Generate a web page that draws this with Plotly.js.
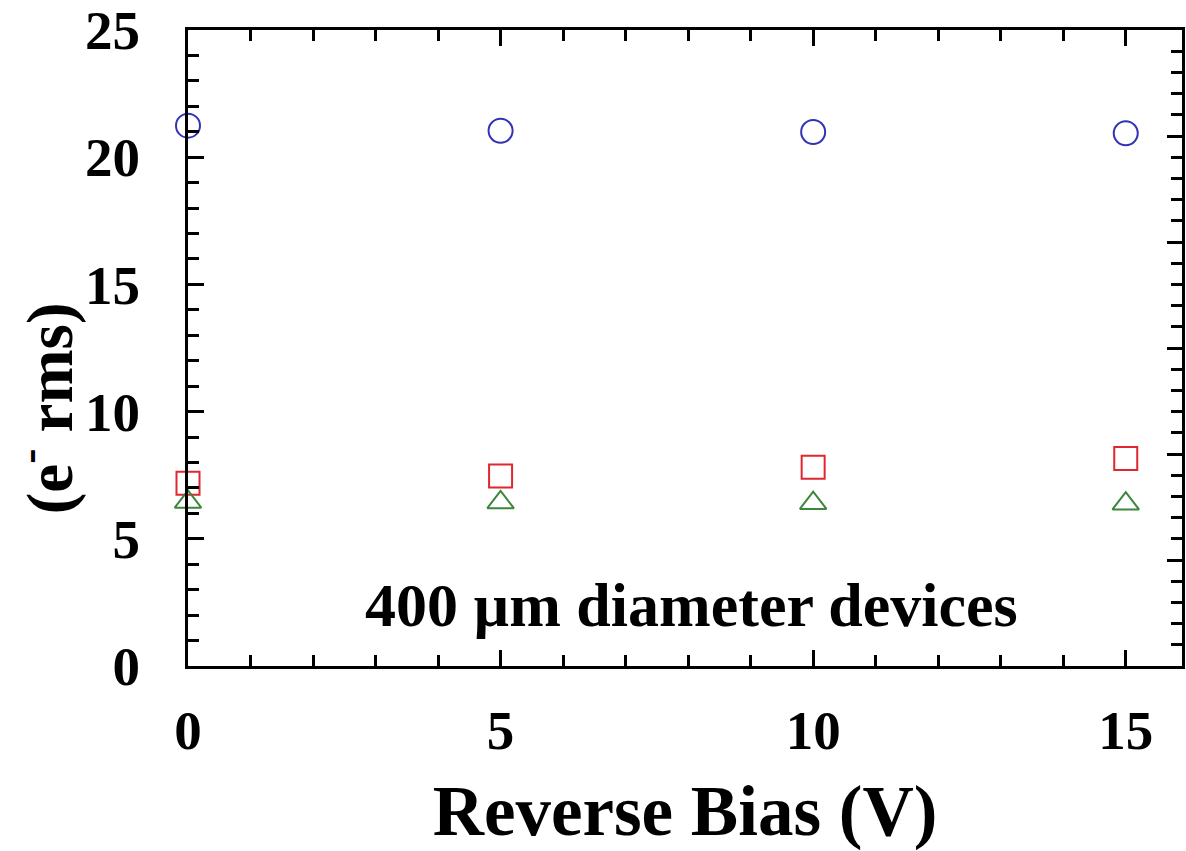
<!DOCTYPE html>
<html>
<head>
<meta charset="utf-8">
<script src="https://cdn.plot.ly/plotly-3.0.1.min.js"></script>
<style>
  html, body { margin: 0; padding: 0; background: #ffffff; }
  #chart { width: 1186px; height: 851px; }
</style>
</head>
<body>
<div id="chart"></div>
<script>
// Noise versus reverse bias, 400 µm diameter devices
const biasVolts = [0, 5, 10, 15];
const circleNoise = [21.24, 21.04, 20.99, 20.94];
const squareNoise = [7.18, 7.47, 7.81, 8.16];
const triangleNoise = [6.45, 6.43, 6.40, 6.38];
const xTickValues = [0, 5, 10, 15];
const yTickValues = [0, 5, 10, 15, 20, 25];
const noteText = '400 µm diameter devices';
const xTitleText = 'Reverse Bias (V)';
const yTitleText = '(e<sup>-</sup> rms)';

const serif = 'Liberation Serif, Times New Roman, serif';
const ink = '#000000';

function series(y, symbol, color, size) {
  return {
    x: biasVolts, y: y, type: 'scatter', mode: 'markers',
    marker: { symbol: symbol, size: size, color: color,
              line: { color: color, width: 2 } },
    hoverinfo: 'x+y', showlegend: false, cliponaxis: false
  };
}

const traces = [
  series(circleNoise, 'circle-open', '#3232b8', 24),
  series(squareNoise, 'square-open', '#e0262e', 23),
  series(triangleNoise, 'triangle-up-open', '#3c873c', 23),
  // empty trace that brings the top and right frame axes into being
  { x: [], y: [], xaxis: 'x2', yaxis: 'y2', type: 'scatter', mode: 'markers',
    hoverinfo: 'skip', showlegend: false }
];

const minorTicks = { dtick: 1, tick0: 0, ticks: 'inside', ticklen: 11, tickwidth: 3, tickcolor: ink };

const axisCommon = {
  showgrid: false, zeroline: false,
  showline: true, linecolor: ink, linewidth: 3,
  ticks: 'inside', ticklen: 16, tickwidth: 3, tickcolor: ink,
  tickfont: { family: serif, size: 55, color: ink, weight: 700 }
};

const layout = {
  width: 1186, height: 851,
  margin: { l: 188, r: 4, t: 30, b: 185 },
  paper_bgcolor: '#ffffff', plot_bgcolor: '#ffffff',
  xaxis: Object.assign({}, axisCommon, {
    range: [0, 15.9], tickmode: 'array', tickvals: xTickValues,
    ticklabelstandoff: 14, minor: minorTicks,
    title: { text: xTitleText, standoff: 50,
             font: { family: serif, size: 71, color: ink, weight: 700 } }
  }),
  yaxis: Object.assign({}, axisCommon, {
    range: [0, 25], tickmode: 'array', tickvals: yTickValues,
    ticklabelstandoff: 34, minor: minorTicks
  }),
  xaxis2: Object.assign({}, axisCommon, {
    overlaying: 'x', side: 'top', anchor: 'y',
    range: [0, 15.9], tickmode: 'array', tickvals: xTickValues,
    showticklabels: false, minor: minorTicks
  }),
  yaxis2: Object.assign({}, axisCommon, {
    overlaying: 'y', side: 'right', anchor: 'x',
    range: [0, 30], tickmode: 'linear', tick0: 0, dtick: 5, ticklen: 15,
    showticklabels: false, minor: minorTicks
  }),
  annotations: [
    { text: noteText, xref: 'x', yref: 'y', x: 8.05, y: 2.4,
      showarrow: false, xanchor: 'center', yanchor: 'middle',
      font: { family: serif, size: 62, color: ink, weight: 700 } },
    { text: yTitleText, xref: 'paper', yref: 'paper', x: -0.144, y: 0.405,
      textangle: -90, showarrow: false, xanchor: 'center', yanchor: 'middle',
      font: { family: serif, size: 65, color: ink, weight: 700 } }
  ]
};

Plotly.newPlot('chart', traces, layout, { displayModeBar: false, staticPlot: true });
</script>
</body>
</html>
